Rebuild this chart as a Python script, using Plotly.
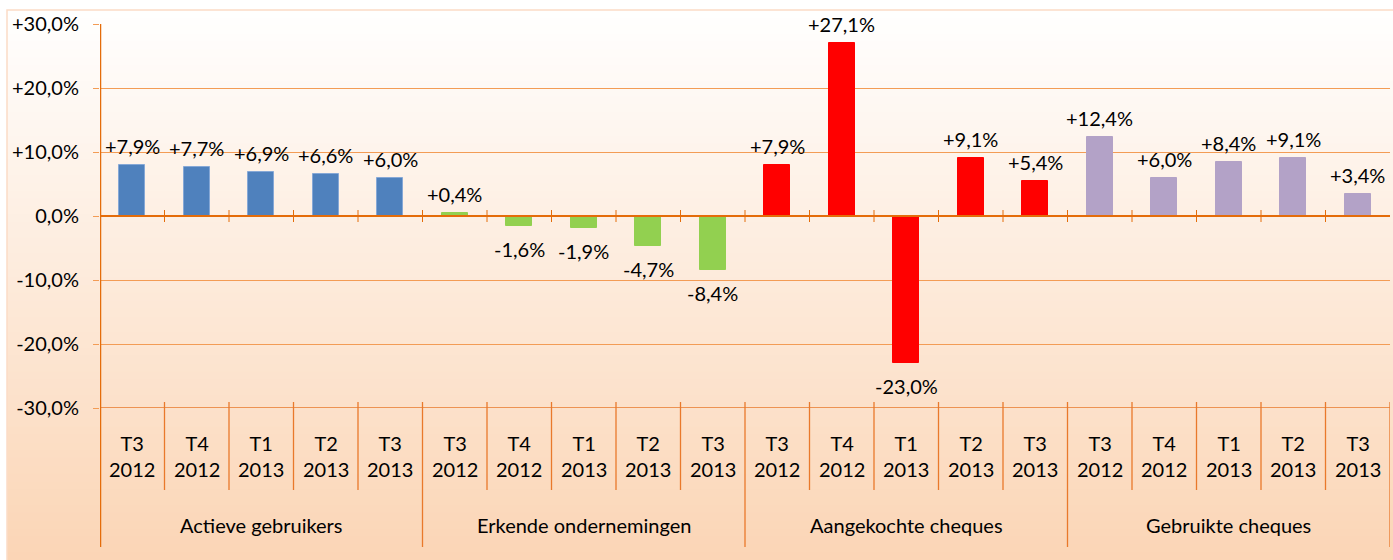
import plotly.graph_objects as go

# ---------------- data ----------------
groups = ["Actieve gebruikers", "Erkende ondernemingen", "Aangekochte cheques", "Gebruikte cheques"]
periods = ["T3<br>2012", "T4<br>2012", "T1<br>2013", "T2<br>2013", "T3<br>2013"]
actieve = [7.9, 7.7, 6.9, 6.6, 6.0]
erkende = [0.4, -1.6, -1.9, -4.7, -8.4]
aangekochte = [7.9, 27.1, -23.0, 9.1, 5.4]
gebruikte = [12.4, 6.0, 8.4, 9.1, 3.4]
y_tickvals = [-30, -20, -10, 0, 10, 20, 30]
y_ticktext = ["-30,0%", "-20,0%", "-10,0%", "0,0%", "+10,0%", "+20,0%", "+30,0%"]

series = [actieve, erkende, aangekochte, gebruikte]
colors = ["#4F81BD", "#92D050", "#FF0000", "#B3A2C7"]
outline = ["#86A8D6", "#92D050", "#FF0000", "#B3A2C7"]

FONT = "Lato"
FS = 20
DARK = "#E46C0A"
GRID = "#F39C55"
DIV = "#E9792B"

n_per = len(periods)
n_tot = n_per * len(groups)

fig = go.Figure()
annotations = []
for gi, (vals, col) in enumerate(zip(series, colors)):
    xs = [gi * n_per + j for j in range(n_per)]
    fig.add_trace(go.Bar(
        x=xs, y=vals, width=0.4,
        marker=dict(color=col, line=dict(color=outline[gi], width=1)),
        name=groups[gi], showlegend=False, hoverinfo="skip",
    ))
    for x, v in zip(xs, vals):
        txt = f"{v:+.1f}%".replace(".", ",")
        annotations.append(dict(
            x=x, y=v, xref="x", yref="y", text=txt, showarrow=False,
            font=dict(family=FONT, size=FS, color="black"),
            yanchor="bottom" if v >= 0 else "top",
            yshift=5 if v >= 0 else -9,
        ))
    # sub-category labels
    for j, p in enumerate(periods):
        annotations.append(dict(
            x=gi * n_per + j, y=-0.126, xref="x", yref="paper", text=p,
            showarrow=False, yanchor="middle",
            font=dict(family=FONT, size=FS, color="black"),
        ))
    # group label
    annotations.append(dict(
        x=gi * n_per + (n_per - 1) / 2, y=-0.305, xref="x", yref="paper",
        text=groups[gi], showarrow=False, yanchor="middle",
        font=dict(family=FONT, size=FS, color="black"),
    ))

shapes = []
# gradient background (white -> peach), drawn as thin strips
W, H = 1393, 560
top_px, bot_px = 10, 560
plot_top, plot_bot = 24, 408
ph = plot_bot - plot_top
def py2paper(py):
    return (plot_bot - py) / ph
left_paper = (7 - 100) / 1290
right_paper = (1393 - 100) / 1290 + 0.01
c0 = (255, 255, 255)
c1 = (251, 213, 181)
N = 70
step = (bot_px - top_px) / N
for k in range(N):
    t = (k + 0.5) / N
    c = tuple(round(a + (b - a) * t) for a, b in zip(c0, c1))
    y0 = top_px + k * step
    y1 = y0 + step + 0.8
    shapes.append(dict(
        type="rect", xref="paper", yref="paper",
        x0=left_paper, x1=right_paper, y0=py2paper(y1), y1=py2paper(y0),
        fillcolor=f"rgb{c}", line=dict(width=0), layer="below",
    ))
# box border
shapes.append(dict(type="rect", xref="paper", yref="paper",
                   x0=left_paper, x1=right_paper, y0=py2paper(bot_px + 2), y1=py2paper(top_px),
                   line=dict(color="#FBDCC6", width=1.5), fillcolor="rgba(0,0,0,0)", layer="below"))

# -30 line
shapes.append(dict(type="line", xref="x", yref="y", x0=-0.5, x1=n_tot - 0.5, y0=-30, y1=-30,
                   line=dict(color=DIV, width=1.5), layer="above"))
# zero line
shapes.append(dict(type="line", xref="x", yref="y", x0=-0.5, x1=n_tot - 0.5, y0=0, y1=0,
                   line=dict(color=DARK, width=2.2), layer="above"))
# ticks at zero line between categories
for i in range(n_tot - 1):
    shapes.append(dict(type="line", xref="x", yref="y", ysizemode="pixel", yanchor=0,
                       x0=i + 0.5, x1=i + 0.5, y0=-6, y1=6,
                       line=dict(color=DARK, width=1), layer="above"))
# dividers in category label area
for i in range(1, n_tot + 1):
    is_group = (i % n_per == 0)
    shapes.append(dict(type="line", xref="x", yref="paper",
                       x0=i - 0.5, x1=i - 0.5,
                       y0=py2paper(547 if is_group else 490), y1=py2paper(402),
                       line=dict(color=DIV, width=1.3), layer="above"))
# left axis line
shapes.append(dict(type="line", xref="x", yref="paper", x0=-0.5, x1=-0.5,
                   y0=py2paper(547), y1=1,
                   line=dict(color=DARK, width=2.5), layer="above"))

fig.update_layout(
    width=W, height=H,
    margin=dict(l=100, r=3, t=plot_top, b=H - plot_bot),
    paper_bgcolor="white", plot_bgcolor="rgba(0,0,0,0)",
    font=dict(family=FONT, size=FS, color="black"),
    xaxis=dict(range=[-0.5, n_tot - 0.5], showticklabels=False, showgrid=False,
               zeroline=False, showline=False, ticks=""),
    yaxis=dict(range=[-30, 30], tickvals=y_tickvals, ticktext=y_ticktext,
               showgrid=True, gridcolor=GRID, gridwidth=1.2,
               zeroline=False, showline=False,
               ticks="outside", ticklen=6, tickcolor=GRID, tickwidth=1.2,
               ticklabelstandoff=10,
               tickfont=dict(family=FONT, size=FS, color="black")),
    shapes=shapes, annotations=annotations, bargap=0,
)

fig.write_html(
    "out.html",
    config={"displayModeBar": False},
    post_script="document.body.style.margin='0';document.body.style.overflow='hidden';",
)
